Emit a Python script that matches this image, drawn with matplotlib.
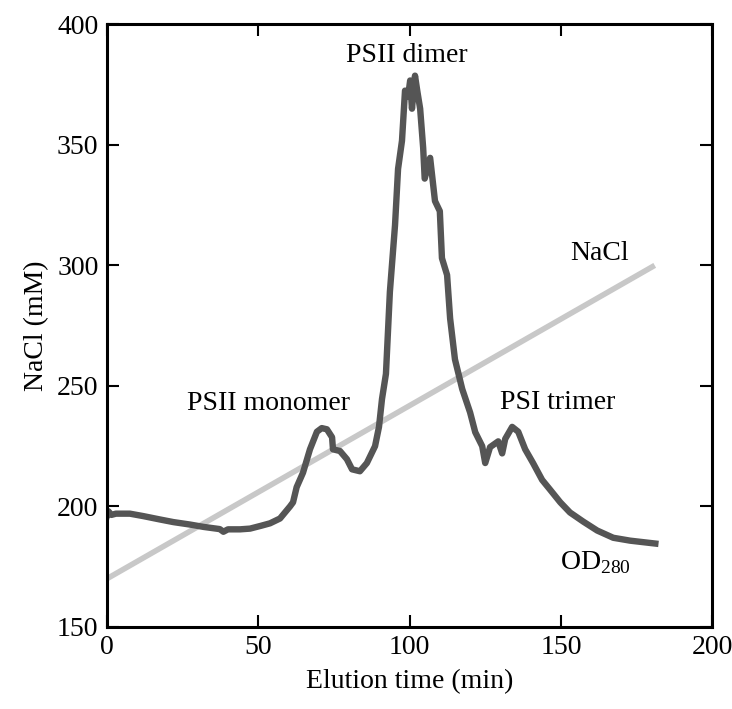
import matplotlib
matplotlib.use("Agg")
import matplotlib.pyplot as plt

plt.rcParams['font.family'] = ['Liberation Serif', 'DejaVu Serif']

# OD280 trace (time in min, value on NaCl scale)
od_time = [0, 0.5, 1.5, 3, 7.6, 12, 17.5, 22, 27.4, 32, 37.3, 38.5, 40, 44, 47.3,
           51, 53.9, 57.2, 60.5, 61.5, 62.7, 64.8, 67.1, 69.4, 71, 72.7, 74.4,
           74.7, 77, 79.3, 81, 83.6, 85.9, 88.6, 89.9, 90.9, 92.2, 93.5, 95.2,
           96.2, 97.5, 98.5, 99.5, 100.2, 100.8, 101.8, 102.6, 103.5, 104.5,
           105, 106.8, 108.4, 110, 110.7, 112.4, 113.4, 115, 117.4, 120, 121.7,
           124, 125, 126.6, 129.3, 130.6, 131.6, 133.9, 135.9, 138.2, 140.8,
           143.8, 146.4, 149.8, 153, 157.4, 162, 167.3, 172.9, 181.2]
od_value = [196, 198, 196.5, 197, 197, 196, 194.6, 193.5, 192.5, 191.5, 190.6, 189.5,
            190.5, 190.5, 190.8, 192, 193, 195, 200, 201.7, 208, 214, 223.7,
            231, 232.5, 232, 228.7, 223.7, 223, 219.6, 215.4, 214.6, 218, 225,
            233, 244.6, 255, 289, 316.7, 340, 351.7, 372.5, 370, 376.7, 365,
            378.7, 372, 365, 348.7, 336, 344.6, 326.7, 322.5, 303, 296, 278, 261,
            248.7, 239, 230.8, 225, 218, 224.6, 227, 222, 228, 233, 231,
            223.7, 218, 211, 207, 201.7, 197.5, 193.7, 190, 187, 185.8, 184.6]

# linear NaCl gradient
nacl_time = [0, 181]
nacl_value = [170, 300]

peak_labels = ["PSII monomer", "PSII dimer", "PSI trimer"]
peak_x = [53.5, 99.2, 148.8]
peak_y = [242.5, 387, 243]

fig = plt.figure(figsize=(7.32, 7.09), dpi=100)
ax = fig.add_axes([0.146, 0.1157, 0.827, 0.85])

ax.plot(nacl_time, nacl_value, color='#c8c8c8', lw=4, solid_capstyle='butt')
ax.plot(od_time, od_value, color='#555555', lw=4.6)

for lab, x, y in zip(peak_labels, peak_x, peak_y):
    ax.text(x, y, lab, ha='center', va='center', fontsize=20)
ax.text(162.6, 305, "NaCl", ha='center', va='center', fontsize=20)
ax.text(149.8, 176.7, "OD$_{\\mathregular{280}}$", ha='left', va='center', fontsize=20)

ax.set_xlim(0, 200)
ax.set_ylim(150, 400)
ax.set_xticks([0, 50, 100, 150, 200])
ax.set_yticks([150, 200, 250, 300, 350, 400])
ax.tick_params(direction='in', length=8.5, width=1.5, labelsize=20,
               top=True, right=True, pad=6)
for s in ax.spines.values():
    s.set_linewidth(2.2)

ax.set_xlabel("Elution time (min)", fontsize=20, labelpad=6)
ax.set_ylabel("NaCl (mM)", fontsize=20, labelpad=6)

fig.savefig("out.png", dpi=100)
